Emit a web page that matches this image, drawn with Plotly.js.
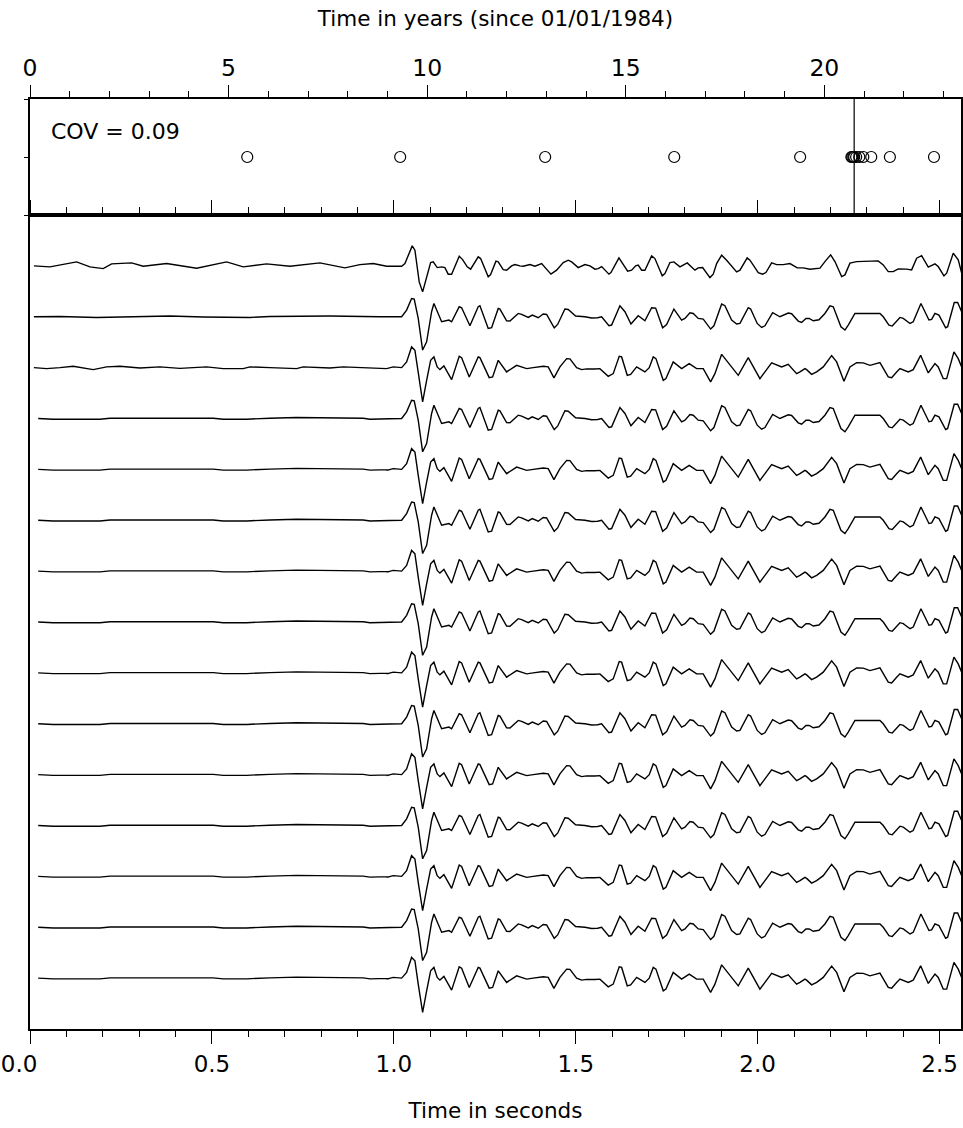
<!DOCTYPE html>
<html><head><meta charset="utf-8">
<script src="https://cdn.plot.ly/plotly-3.0.1.min.js"></script>
<style>html,body{margin:0;padding:0;background:#fff}</style>
</head><body><div id="chart" style="width:963px;height:1128px"></div>
<script>
// ---------- data ----------
const eventYears = [5.47, 9.32, 12.97, 16.22, 19.39, 20.68, 20.70, 20.73, 20.75, 20.80, 20.88, 20.98, 21.18, 21.65, 22.76];
const eventLevel = [0,0,0,0,0,0,0,0,0,0,0,0,0,0,0];
const markerYear = 20.75;
const covLabel = "COV = 0.09";
const yearTickVals = [0, 5, 10, 15, 20];
const secTickVals = [0, 0.5, 1, 1.5, 2, 2.5];
const secTickText = ["0.0\u00a0\u00a0\u00a0", "0.5", "1.0", "1.5", "2.0", "2.5"];

// pre-event noise (seconds, amplitude)
const pre1_t = [0.0107,0.0547,0.1281,0.1647,0.2012,0.2243,0.2793,0.3112,0.3755,0.4580,0.5404,0.5860,0.6504,0.7144,0.7969,0.8656,0.9068,0.9434];
const pre1_a = [0,-1,4,-1,-2.7,2,3,-0.3,2.3,-2.3,4,-1,2,-0.3,3,-2,1.3,2.3];
const pre2_t = [0.0107,0.0822,0.1831,0.2746,0.3846,0.4761,0.6045,0.6594,0.8244,0.9618];
const pre2_a = [0,0.3,-0.7,0,0.7,-0.3,-0.7,0.3,0.7,0];
const pre3_t = [0.0107,0.0456,0.0822,0.1187,0.1737,0.2106,0.2471,0.3021,0.3571,0.4120,0.4854,0.5311,0.5860,0.6045,0.6594,0.7328,0.7510,0.8244,0.8609,0.9527];
const pre3_a = [0,-1,0,1.3,-2,0.7,1.3,-0.3,0.7,-0.7,0.7,-1,-1,0.7,0,-1,0.7,-0.3,0.7,-0.7];
const preQ_t = [0.0225,0.0638,0.1187,0.1921,0.2198,0.3661,0.5036,0.5311,0.5954,0.6594,0.7328,0.9159,0.9343,0.9893];
const preQ_a = [0,-0.7,-0.7,-0.7,0.3,0.3,0.3,-0.7,-0.7,0.3,1,0.3,-0.7,-0.3];

// event waveforms
const post1_t = [0.9802,1.0215,1.0305,1.0506,1.0580,1.0698,1.0792,1.0883,1.1012,1.1083,1.1193,1.1314,1.1405,1.1495,1.1589,1.1798,1.1891,1.2018,1.2111,1.2320,1.2386,1.2595,1.2661,1.2807,1.2870,1.3007,1.3101,1.3238,1.3329,1.3466,1.3557,
1.3741,1.3879,1.4063,1.4319,1.4475,1.4657,1.4794,1.4888,1.5069,1.5253,1.5391,1.5528,1.5619,1.5712,1.5913,1.5968,1.6188,1.6427,1.6537,1.6647,1.6718,1.6812,1.6902,1.7087,1.7177,1.7378,1.7452,
1.7590,1.7699,1.7865,1.8065,1.8277,1.8367,1.8488,1.8689,1.8780,1.8873,1.9011,1.9148,1.9423,1.9514,1.9714,1.9789,2.0017,2.0138,2.0228,2.0385,2.0523,2.0704,2.0888,2.1089,2.1254,2.1438,
2.1713,2.1850,2.2007,2.2125,2.2309,2.2400,2.2538,2.2722,2.3087,2.3315,2.3453,2.3590,2.3728,2.3865,2.4096,2.4233,2.4371,2.4508,2.4690,2.4783,2.4874,2.4964,2.5121,2.5196,2.5377,2.5514,2.5608];
const post1_a = [-0.3,-0.3,2.3,20,15.7,-16,-26,-12.7,3.3,4,-1.7,-1,-1.7,-8.3,-8.3,9.7,6.3,-1,-3.3,9,7.3,-11,-8.7,4.7,4,-3.7,-4.3,0,1.3,0,-0.3,
1.3,-0.3,2.3,-8.3,-4.3,3.3,5.7,4,-1.7,1.3,0,-3.3,-2.7,-0.7,-8.3,-6.7,8,-5.3,-4.3,0,0.7,-4.3,-4.3,10,7.3,-10,-7.7,
3.3,4,-1,3,-4.3,-2,-1.7,-11.7,-8.3,2.3,10.7,5.7,-6,-4.3,8,5.7,-6.7,-8.3,-6.7,3,1.3,1.3,2.3,-2,-2,-3.3,
-2.3,4.3,11,4.3,-10.7,-9,2.7,4.3,4.3,5,1,-5.7,-5.7,-3,-3.3,-4,7.7,10.3,-1.3,0.3,2,-0.7,-10,-7.3,12.7,6,-7.3];

const post2_t = [1.0215,1.0352,1.0489,1.0561,1.0671,1.0792,1.0902,1.1039,1.1102,1.1314,1.1451,1.1515,1.1589,1.1798,1.1864,1.2092,1.2320,1.2367,1.2595,1.2688,1.2870,1.2917,1.3101,1.3192,1.3420,1.3513,
1.3695,1.3805,1.3970,1.4107,1.4200,1.4409,1.4503,1.4703,1.4794,1.4997,1.5253,1.5437,1.5602,1.5712,1.5913,1.5987,1.6215,1.6353,1.6518,1.6718,1.6902,1.7087,1.7197,1.7389,1.7499,
1.7699,1.7911,1.8002,1.8140,1.8230,1.8367,1.8505,1.8708,1.8799,1.9011,1.9101,1.9285,1.9423,1.9514,1.9742,1.9808,1.9989,2.0110,2.0201,2.0413,2.0523,2.0613,2.0841,2.0935,2.1116,2.1210,2.1328,2.1419,2.1529,
2.1686,2.1850,2.1988,2.2079,2.2290,2.2400,2.2491,2.2675,2.2859,2.3041,2.3225,2.3362,2.3453,2.3610,2.3700,2.3912,2.4003,2.4187,2.4277,2.4489,2.4599,2.4709,2.4783,2.4874,2.4984,2.5168,2.5223,2.5405,2.5498,2.5608];
const post2_a = [0,6.7,18.3,17.7,-1.7,-33.3,-25,5,13.3,-5,-4,-3.3,-5,10,9,-9,10,11,-11.7,-11,8.3,7.7,-4,-4.3,3.3,2.3,
-0.7,1.7,-1,2.7,2.3,-11,-7.7,7.7,7.3,0.7,0,-1.3,-1,0,-9,-8.3,11,5,-7.3,1,-4,9,8.7,-11,-7.7,
7.7,-3.3,-1.7,4,3.3,-1.7,-2.3,-12.3,-9,12.7,11,-3.3,-7.3,-6.7,9,7.7,-6.7,-10.7,-9,4,1.7,0,3.7,3,-4.3,-5.7,-1.7,-1.7,-4,
-3,3.3,11,10,-10,-13.3,-8.3,3.3,3.3,2.7,3,3.3,0,-8.3,-9.3,-0.7,-1.7,-6.7,-5,13.3,5,-3.3,-2.7,3.3,1.7,-11,-10,14.3,14.3,5];

const post3_t = [0.9802,0.9984,1.0215,1.0352,1.0489,1.0580,1.0671,1.0792,1.0902,1.1012,1.1102,1.1193,1.1267,1.1377,1.1589,1.1798,1.1864,1.2073,1.2320,1.2367,1.2622,1.2716,1.2870,1.3101,1.3376,1.3513,1.3651,1.3832,1.4107,1.4244,1.4401,1.4566,1.4750,1.4841,1.5025,1.5163,1.5300,1.5528,1.5665,1.5894,1.6031,1.6196,1.6262,1.6416,1.6510,1.6675,1.6765,1.6902,1.7021,1.7131,1.7205,1.7406,1.7480,1.7680,
1.7911,1.8120,1.8323,1.8505,1.8708,1.8826,1.9011,1.9239,1.9467,1.9742,2.0063,2.0385,2.0660,2.0841,2.1072,2.1163,2.1301,2.1347,2.1484,2.1622,2.1804,2.2034,2.2172,2.2373,2.2538,2.2722,2.2903,2.3087,2.3362,2.3590,2.3684,2.3821,2.3912,2.4140,2.4277,2.4481,2.4690,2.4874,2.4964,2.5102,2.5196,2.5396,2.5514,2.5608];
const post3_a = [-1,0.7,0,5.7,20.7,17.3,-6,-34.3,-12.7,7.3,10.7,0.7,-2,1.7,-12,11.3,10,-9.3,10.7,10,-10,-9.3,7.3,-4.3,2.3,0.7,-1,0,1.3,0.7,-10.3,0.7,9,8.7,0,-2,-1.3,-1.3,-1,-8.7,-6,11.3,10.7,-7.7,-6.7,0.7,-1,-4.3,0,10.7,9,-12.7,-11,5.7,
-1,4,-1,-1,-14.3,-6,13.3,2.3,-7.7,10,-11,4.7,0.7,3.3,-6,-4.3,-1,-2,-6.7,-4.3,0.7,12,5.7,-13.7,0.7,5,4.7,2.3,5,-9.3,-10,-4.3,-1,-4.3,-2,12.3,-5.3,4,0.7,-11,-11,15.7,9,0.7];

// which digitised pieces each of the 15 rows shows (top to bottom)
const rowPreT  = [pre1_t, pre2_t, pre3_t, preQ_t, preQ_t, preQ_t, preQ_t, preQ_t, preQ_t, preQ_t, preQ_t, preQ_t, preQ_t, preQ_t, preQ_t];
const rowPreA  = [pre1_a, pre2_a, pre3_a, preQ_a, preQ_a, preQ_a, preQ_a, preQ_a, preQ_a, preQ_a, preQ_a, preQ_a, preQ_a, preQ_a, preQ_a];
const rowPostT = [post1_t, post2_t, post3_t, post2_t, post3_t, post2_t, post3_t, post2_t, post3_t, post2_t, post3_t, post2_t, post3_t, post2_t, post3_t];
const rowPostA = [post1_a, post2_a, post3_a, post2_a, post3_a, post2_a, post3_a, post2_a, post3_a, post2_a, post3_a, post2_a, post3_a, post2_a, post3_a];

// ---------- layout ----------
const FONT = "DejaVu Sans, Liberation Sans, Arial, sans-serif";
const W = 963, H = 1128;
const M = {l: 30, r: 2, t: 99, b: 99};
const plotH = H - M.t - M.b;
const topPanelFrac = (215 - 99) / plotH;
const split = 1 - topPanelFrac;
const nRows = rowPostT.length;
const halfBand = 45;
const halfDom = halfBand / plotH;

const data = [];
const layout = {
  width: W, height: H,
  margin: M,
  paper_bgcolor: "#fff",
  plot_bgcolor: "rgba(0,0,0,0)",
  showlegend: false,
  font: {family: FONT, color: "#000", size: 22},
  xaxis: {
    domain: [0, 1], anchor: "y", range: [0, 2.559],
    tickmode: "array", tickvals: secTickVals, ticktext: secTickText,
    ticks: "outside", ticklen: 13, tickwidth: 1, tickcolor: "#000",
    minor: {dtick: 0.1, tick0: 0, ticks: "outside", ticklen: 6, tickwidth: 1, tickcolor: "#000", showgrid: false},
    showline: true, linewidth: 2, linecolor: "#000", mirror: "ticks",
    showgrid: false, zeroline: false,
    tickfont: {family: FONT, size: 23, color: "#000"},
    title: {text: "Time in seconds", font: {family: FONT, size: 21.5, color: "#000"}, standoff: 27}
  },
  yaxis: {
    domain: [0, split], anchor: "x", range: [0, 1],
    showline: true, linewidth: 2, linecolor: "#000", mirror: true,
    ticks: "", showticklabels: false, showgrid: false, zeroline: false, fixedrange: true
  },
  xaxis2: {
    domain: [0, 1], anchor: "y17", side: "top", range: [0, 23.44],
    tickmode: "array", tickvals: yearTickVals,
    ticks: "outside", ticklen: 12, tickwidth: 1, tickcolor: "#000",
    minor: {dtick: 1, tick0: 0, ticks: "outside", ticklen: 6, tickwidth: 1, tickcolor: "#000", showgrid: false},
    showline: true, linewidth: 2, linecolor: "#000", mirror: true,
    showgrid: false, zeroline: false,
    tickfont: {family: FONT, size: 23.5, color: "#000"},
    title: {text: "Time in years (since 01/01/1984)", font: {family: FONT, size: 21.5, color: "#000"}, standoff: 21}
  },
  yaxis17: {
    domain: [split, 1], anchor: "x2", range: [-1, 1],
    tickmode: "array", tickvals: [-1, 0, 1], ticks: "outside", ticklen: 4, tickwidth: 1, tickcolor: "#000",
    showticklabels: false, showline: true, linewidth: 2, linecolor: "#000", mirror: true,
    showgrid: false, zeroline: false, fixedrange: true
  },
  shapes: [{
    type: "line", xref: "x2", yref: "y17 domain",
    x0: markerYear, x1: markerYear, y0: 0, y1: 1,
    line: {color: "#000", width: 1.2}
  }],
  annotations: [{
    text: covLabel, xref: "paper", yref: "paper",
    x: (49 - M.l) / (W - M.l - M.r), y: 1 - (131.5 - M.t) / plotH,
    xanchor: "left", yanchor: "middle", showarrow: false,
    font: {family: FONT, size: 22, color: "#000"}
  }]
};

data.push({type: "scatter", x: [], y: [], xaxis: "x", yaxis: "y", hoverinfo: "skip"});

for (let i = 0; i < nRows; i++) {
  const ax = "yaxis" + (i + 2);
  const c = split * (1 - (i + 1) / (nRows + 1));
  layout[ax] = {
    domain: [c - halfDom, c + halfDom], anchor: "x", range: [-halfBand, halfBand],
    visible: false, fixedrange: true
  };
  data.push({
    type: "scatter", mode: "lines",
    x: rowPreT[i].concat(rowPostT[i]), y: rowPreA[i].concat(rowPostA[i]),
    xaxis: "x", yaxis: "y" + (i + 2),
    line: {color: "#000", width: 1.4},
    hoverinfo: "skip"
  });
}

data.push({
  type: "scatter", mode: "markers",
  x: eventYears, y: eventLevel, xaxis: "x2", yaxis: "y17",
  marker: {symbol: "circle-open", size: 11, color: "#000", line: {width: 1.2, color: "#000"}},
  hoverinfo: "skip", cliponaxis: false
});

Plotly.newPlot("chart", data, layout, {staticPlot: true, displayModeBar: false});
</script>
</body></html>
